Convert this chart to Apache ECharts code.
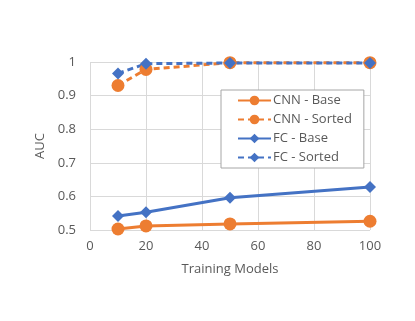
<!DOCTYPE html>
<html><head><meta charset="utf-8">
<script src="https://cdn.jsdelivr.net/npm/echarts@6/dist/echarts.min.js"></script>
<style>html,body{margin:0;padding:0;background:#fff}#c{width:415px;height:321px}</style>
</head><body><div id="c"></div>
<script>
const xValues = [10, 20, 50, 100];
const cnnBase = [0.503, 0.512, 0.518, 0.526];
const cnnSorted = [0.930, 0.978, 0.998, 0.998];
const fcBase = [0.542, 0.553, 0.596, 0.628];
const fcSorted = [0.966, 0.995, 0.997, 0.997];
const seriesNames = ['CNN - Base', 'CNN - Sorted', 'FC - Base', 'FC - Sorted'];

const orange = '#ED7D31', blue = '#4472C4';
const pts = a => a.map((v, i) => [xValues[i], v]);
function mk(name, data, color, dashed, symbol, size) {
  return {
    name, type: 'line', data: pts(data), symbol, symbolSize: size,
    showSymbol: true,
    lineStyle: { color, width: 3, type: dashed ? [6, 4] : 'solid' },
    itemStyle: { color, borderWidth: 0 },
    z: dashed ? 3 : 2
  };
}
const chart = echarts.init(document.getElementById('c'), null, { renderer: 'canvas' });
chart.setOption({
  animation: false,
  backgroundColor: '#fff',
  textStyle: { fontFamily: 'Open Sans, Liberation Sans, sans-serif' },
  grid: { left: 90, right: 45, top: 62, bottom: 91 },
  xAxis: {
    type: 'value', min: 0, max: 100, interval: 20,
    name: 'Training Models', nameLocation: 'middle', nameGap: 33,
    nameTextStyle: { color: '#595959', fontSize: 13 },
    axisLine: { show: false }, axisTick: { show: false },
    axisLabel: { color: '#595959', fontSize: 13, margin: 10 },
    splitLine: { show: true, lineStyle: { color: '#D9D9D9', width: 1 } }
  },
  yAxis: {
    type: 'value', min: 0.5, max: 1, interval: 0.1,
    name: 'AUC', nameLocation: 'middle', nameGap: 33, nameRotate: 90,
    nameTextStyle: { color: '#595959', fontSize: 13 },
    axisLine: { show: false }, axisTick: { show: false },
    axisLabel: { color: '#595959', fontSize: 13, margin: 14, formatter: v => String(+v.toFixed(1)) },
    splitLine: { show: true, lineStyle: { color: '#D9D9D9', width: 1 } }
  },
  legend: {
    data: seriesNames, orient: 'vertical', left: 221, top: 90,
    width: 141, padding: [4, 12, 4, 16], itemGap: 6,
    itemWidth: 33, itemHeight: 12,
    borderColor: '#A6A6A6', borderWidth: 1, backgroundColor: '#fff',
    textStyle: { color: '#595959', fontSize: 13, padding: [0, 0, 0, -3] }
  },
  series: [
    mk(seriesNames[0], cnnBase, orange, false, 'circle', 13),
    mk(seriesNames[1], cnnSorted, orange, true, 'circle', 13),
    mk(seriesNames[2], fcBase, blue, false, 'diamond', 12),
    mk(seriesNames[3], fcSorted, blue, true, 'diamond', 12)
  ]
});
</script></body></html>
